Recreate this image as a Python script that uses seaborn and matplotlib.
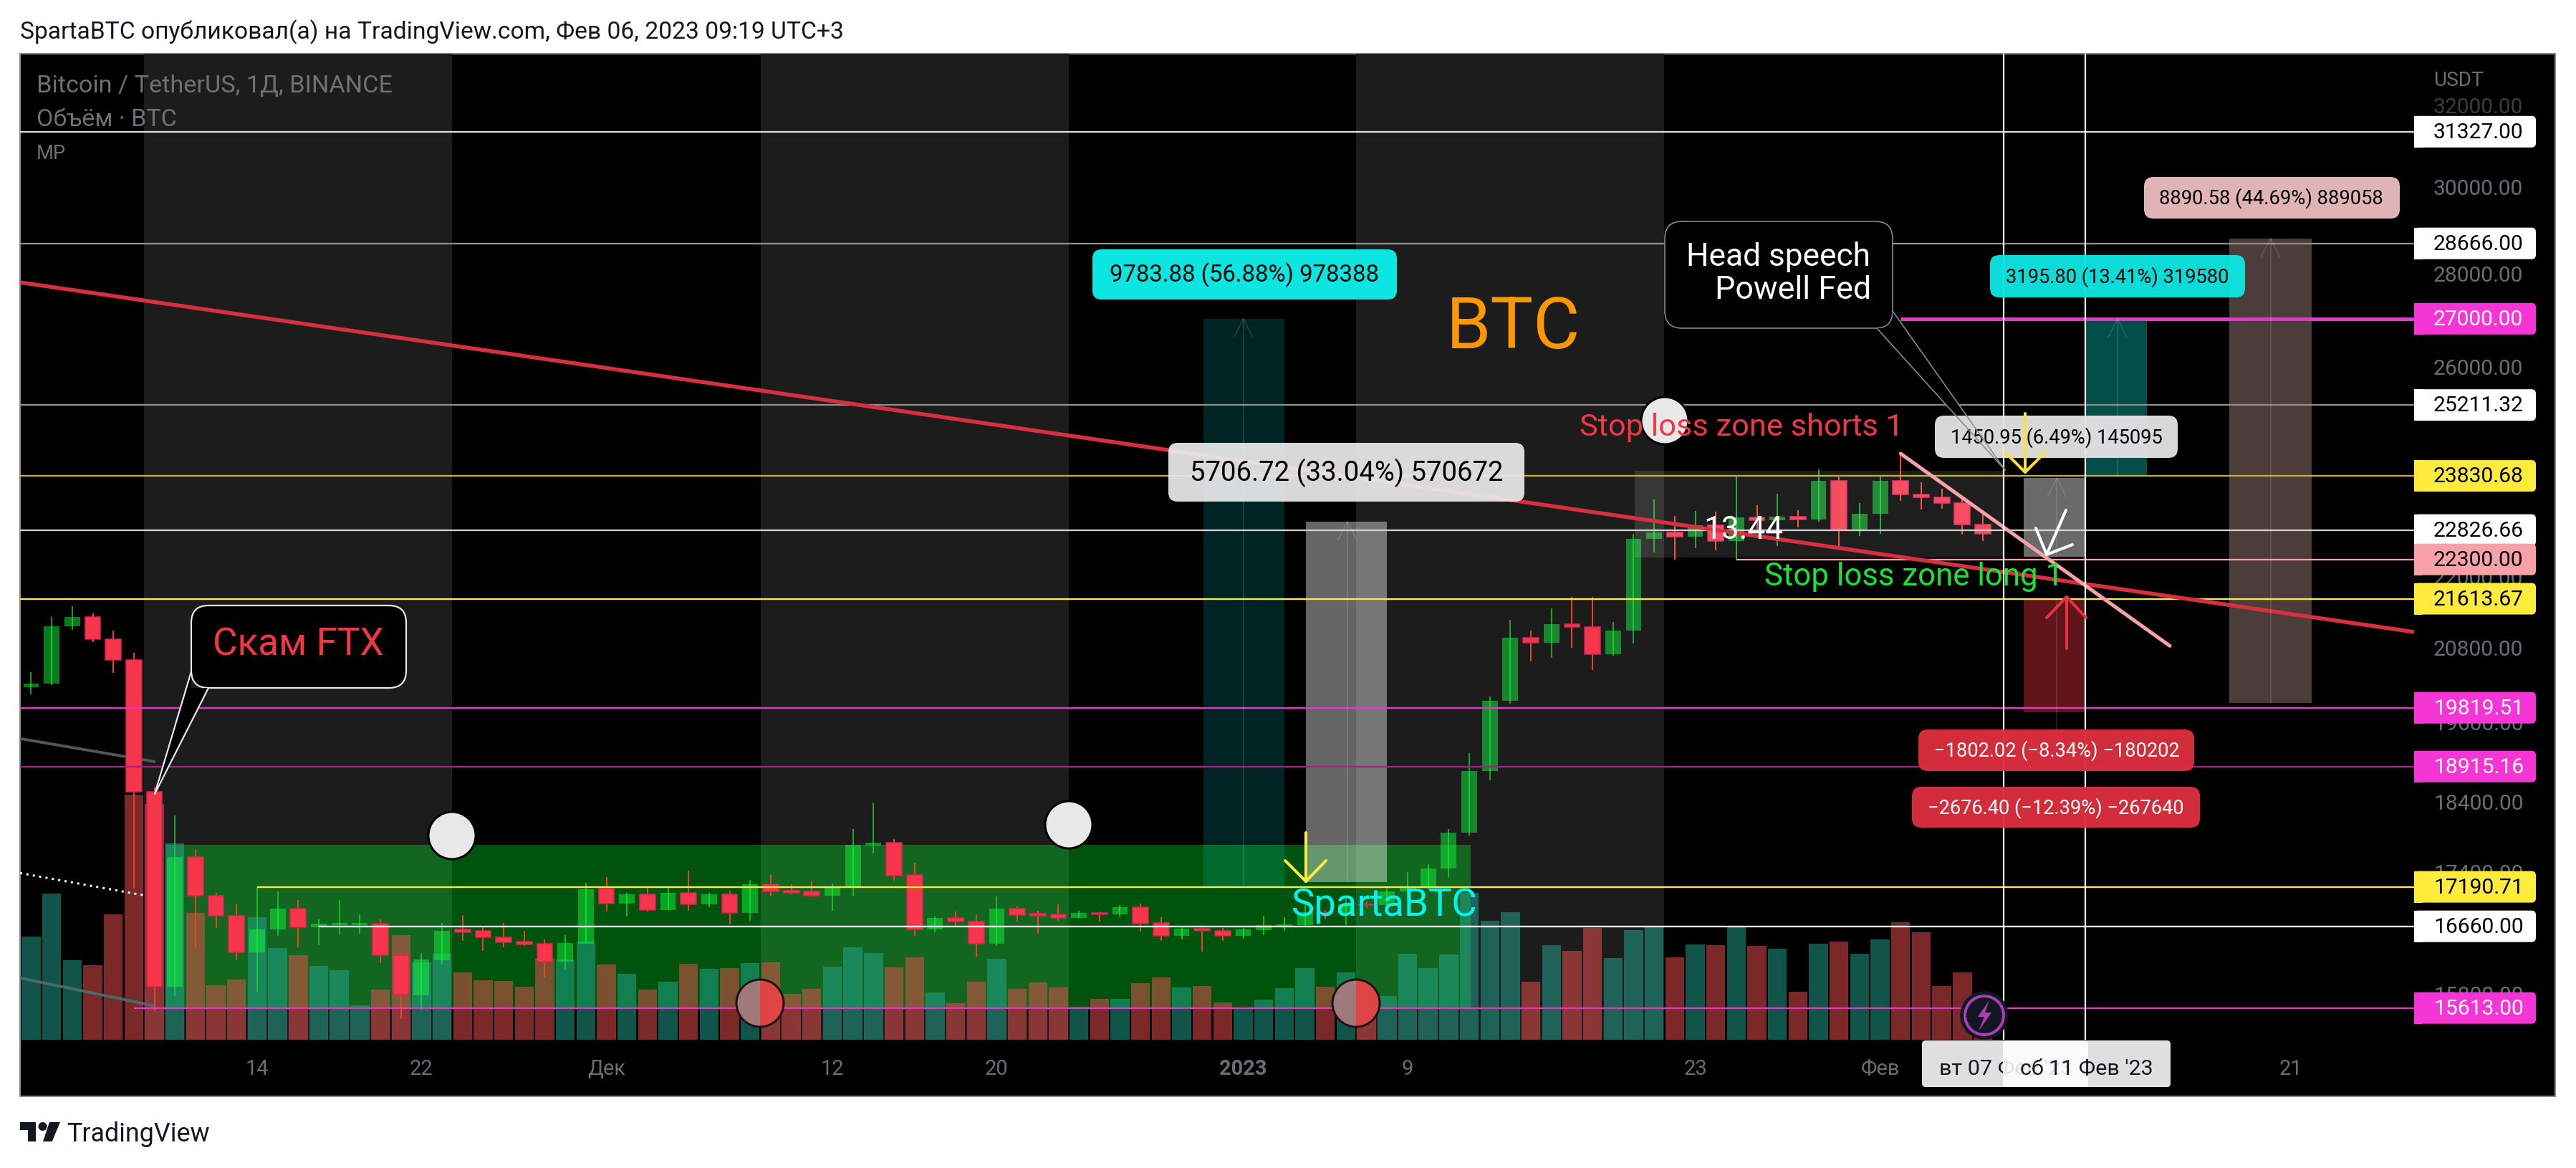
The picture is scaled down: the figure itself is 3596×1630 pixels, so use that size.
import numpy as np
import pandas as pd
import seaborn as sns
import matplotlib
matplotlib.use("Agg")
import matplotlib.pyplot as plt
from matplotlib.patches import FancyBboxPatch, Rectangle, Polygon, Circle, Wedge

# ---------- data (BTCUSDT daily, 3 Nov 2022 -> 6 Feb 2023) ----------
opens = [20150,20205,21148,21300,20925,20590,18541,15880,17605,17067,16804,16320,16618,16895,16652,16678,16680,16695,16279,15770,
         16215,16615,16600,16517,16457,16433,16200,16432,17168,16963,17087,16877,17108,16955,17087,16835,17227,17135,17125,17073,
         17195,17768,17808,17350,16622,16770,16728,16433,16895,16830,16820,16770,16838,16822,16915,16708,16533,16630,16605,16533,
         16610,16664,16674,16850,16831,16950,16943,17127,17179,17440,17943,18846,19930,20952,20872,21185,21133,20677,21072,22666,
         22783,22706,22917,22631,23060,23009,23074,23022,23743,22827,23125,23732,23488,23431,23327,22932]
highs = [20390,21305,21480,21365,21070,20702,18600,18192,17700,17110,16950,17190,17124,17010,16750,17010,16822,16750,16310,16310,
         16707,16808,16650,16707,16600,16488,16546,17245,17320,17105,17178,17178,17410,17105,17135,17290,17355,17225,17270,17235,
         17999,18383,17855,17525,16795,16855,16822,17060,16925,16868,16952,16868,16855,16945,16968,16783,16656,16677,16643,16635,
         16800,16780,16990,16879,17041,16990,17176,17398,17499,18000,19117,20000,21258,21069,21446,21640,21650,21220,22755,23388,
         23078,23180,23162,23816,23282,23500,23189,23960,23800,23320,23812,24255,23715,23587,23433,23158]
lows = [20030,20180,21088,20880,20380,17170,15587,15758,16362,16635,16220,15818,16530,16380,16412,16550,16560,16180,15480,15590,
        16160,16465,16340,16380,16405,16000,16095,16430,16853,16792,16855,16877,16868,16912,16685,16735,17063,17087,17068,16868,
        17075,17652,17275,16530,16585,16668,16260,16400,16728,16567,16737,16770,16728,16792,16592,16473,16486,16327,16470,16495,
        16545,16600,16656,16753,16679,16908,16908,17084,17153,17315,17910,18714,19888,20565,20620,20790,20420,20659,20861,22422,
        22292,22500,22462,22292,22850,22534,22878,22976,22500,22714,22760,23363,23204,23217,22743,22628]
closes = [20205,21148,21300,20925,20590,18541,15880,17605,17067,16804,16320,16618,16895,16650,16695,16708,16708,16279,15778,16225,
          16600,16585,16517,16450,16420,16197,16440,17160,16963,17087,16877,17108,16955,17087,16835,17227,17125,17105,17073,17200,
          17776,17808,17347,16622,16770,16723,16433,16895,16808,16800,16770,16838,16822,16915,16695,16533,16630,16605,16533,16618,
          16677,16685,16850,16831,16950,16943,17127,17178,17440,17943,18846,19930,20954,20871,21185,21134,20677,21072,22667,22783,
          22707,22917,22632,23060,23009,23074,23022,23743,22827,23125,23733,23488,23431,23326,22932,22760]
volumes = [322,457,248,233,392,766,737,614,396,170,188,383,286,264,230,217,107,157,327,241,269,210,186,183,166,253,251,307,235,206,
           157,181,237,222,224,239,242,143,159,228,289,271,226,257,148,114,181,253,159,179,163,103,127,127,177,195,163,168,116,98,
           125,161,224,166,210,107,136,269,224,266,459,372,399,181,296,278,349,255,343,351,258,298,296,351,293,284,150,300,307,269,
           314,367,336,168,211,6]

time_ticks = [11, 19, 28, 39, 47, 59, 67, 81, 90, 110]
time_labels = ["14", "22", "Дек", "12", "20", "2023", "9", "23", "Фев", "21"]
price_ticks = [32000, 30000, 28000, 26000, 24000, 22000, 20800, 19600, 18400, 17400, 16600, 15800]
price_tick_labels = ["32000.00", "30000.00", "28000.00", "26000.00", "24000.00", "22000.00", "20800.00",
                     "19600.00", "18400.00", "17400.00", "16600.00", "15800.00"]

level_prices = [31327, 28666, 27000, 25211.32, 23830.68, 22826.66, 22300, 21613.67, 19819.51, 18915.16, 17190.71, 16660, 15613]
level_labels = ["31327.00", "28666.00", "27000.00", "25211.32", "23830.68", "22826.66", "22300.00", "21613.67",
                "19819.51", "18915.16", "17190.71", "16660.00", "15613.00"]
level_starts = [-1, -1, 91, -1, -1, -1, 83, -1, -1, -1, 11, 14, 5]
level_colors = ["#dcdcdc", "#8f8f8f", "#f22fd0", "#8f8f8f", "#c6b025", "#d0d0d0", "#f9a1a6", "#ffeb3b",
                "#f02fd0", "#a81e86", "#ffeb3b", "#ffffff", "#f02fd0"]
tag_colors = ["#ffffff", "#ffffff", "#f535d6", "#ffffff", "#ffeb3b", "#ffffff", "#f9a1a6", "#ffeb3b",
              "#f535d6", "#f535d6", "#ffeb3b", "#ffffff", "#f535d6"]
tag_text = ["black", "black", "white", "black", "black", "black", "black", "black", "white", "white", "black", "black", "white"]

W, H = 3596, 1631
X0, X1, Y0, Y1 = 28, 3370, 76, 1452
px = 0.72  # points per reference pixel at dpi 100

sns.set_theme(style="dark")
plt.rcParams["font.family"] = ["Roboto", "DejaVu Sans"]
plt.rcParams["axes.grid"] = False

fig = plt.figure(figsize=(W / 100, H / 100), dpi=100, facecolor="white")

# frame behind everything
bg = fig.add_axes([28 / W, 1 - 1531 / H, (3567 - 28) / W, (1531 - 76) / H], zorder=-1, facecolor="black")
bg.set_xticks([]); bg.set_yticks([])
for s in bg.spines.values():
    s.set_color("#8a8a92"); s.set_linewidth(1.5)

ax = fig.add_axes([X0 / W, 1 - Y1 / H, (X1 - X0) / W, (Y1 - Y0) / H])
vol = ax.twinx()
ax.set_zorder(2); vol.set_zorder(1)
ax.patch.set_visible(False)
vol.set_facecolor("black")

idx = np.arange(len(opens))
xlim = (-0.54, 115.99)

# price axes first: the zone below lives in price coordinates
ax.set_yscale("log")
ax.set_ylim(15224, 33329)
ax.set_xlim(*xlim)

# session bands
for a, b in [(5.5, 20.5), (35.5, 50.5), (64.5, 79.5)]:
    vol.axvspan(a, b, color="#1c1c1c", lw=0, zorder=0)

# green accumulation zone (under the volume bars)
vol.add_patch(Rectangle((6.55, 15613), 70.07 - 6.55, 17775 - 15613, fc="#00ff2a", alpha=0.33, lw=0, zorder=0.5,
                        transform=ax.transData))

# volume
frame = pd.DataFrame({"i": idx, "v": volumes,
                      "dir": ["up" if c >= o else "down" for o, c in zip(opens, closes)]})
sns.barplot(data=frame, x="i", y="v", hue="dir", palette={"up": "#22ab94", "down": "#f55050"},
            native_scale=True, dodge=False, width=0.92, alpha=0.5, saturation=1, legend=False,
            ax=vol, zorder=1, linewidth=0)
vol.set_ylim(0, 3082)
vol.set_xlim(*xlim)
vol.set_xlabel(""); vol.set_ylabel("")
vol.set_yticks([])
vol.tick_params(left=False, right=False, labelleft=False, labelright=False)
for s in vol.spines.values():
    s.set_visible(False)

for s in ax.spines.values():
    s.set_visible(False)
ax.yaxis.tick_right()
ax.set_yticks(price_ticks, price_tick_labels)
ax.set_yticks([], minor=True)
ax.yaxis.set_minor_formatter(matplotlib.ticker.NullFormatter())
ax.tick_params(axis="y", length=0, pad=27 * px, labelsize=30 * px, labelcolor="#6c6c74")
ax.set_xticks(time_ticks, time_labels)
ax.tick_params(axis="x", length=0, pad=26 * px, labelsize=29 * px, labelcolor="#6c6c74")
for t, lab in zip(ax.get_xticklabels(), time_labels):
    if lab == "2023":
        t.set_fontweight("bold")
ax.get_yticklabels()[0].set_color("#3c3c40")

# candles
up = np.array(closes) >= np.array(opens)
o, h, l, c = map(np.array, (opens, highs, lows, closes))
ax.vlines(idx[up], l[up], h[up], color="#14e030", alpha=0.7, lw=2 * px, zorder=3)
ax.vlines(idx[~up], l[~up], h[~up], color="#f0401c", lw=2 * px, zorder=3)
ax.bar(idx[up], (c - o)[up], bottom=o[up], width=0.76, color="#14f53c", alpha=0.5, lw=0, zorder=4)
ax.bar(idx[~up], (o - c)[~up], bottom=c[~up], width=0.76, color="#f5364b", edgecolor="#e0205a", lw=1.5 * px, zorder=4)

# consolidation box and position tools
def box(i0, i1, top, bottom, color, alpha):
    ax.add_patch(Rectangle((i0, bottom), i1 - i0, top - bottom, fc=color, alpha=alpha, lw=0, zorder=5))

box(78.05, 96, 23928, 22335, "#ffffff", 0.12)
box(57.06, 61, 27000, 17190, "#00e6e6", 0.16)
box(62.05, 66, 22982, 17256, "#ffffff", 0.40)
box(97, 100, 23792, 22349, "#ffffff", 0.42)
box(100, 103, 27000, 23830.68, "#08a89c", 0.47)
box(107, 111, 28780, 19900, "#e8bcbc", 0.33)
box(97, 100, 21613.67, 19750, "#f23645", 0.40)

# level lines
for p, s, col in zip(level_prices, level_starts, level_colors):
    lw = 5 if p == 27000 else 2.3
    ax.plot([s if s >= 0 else xlim[0], xlim[1]], [p, p], color=col, lw=lw * px, zorder=6, solid_capstyle="butt")

# trend lines
ax.plot([xlim[0], xlim[1]], [27792, 21050], color="#d63040", lw=5.5 * px, zorder=7, solid_capstyle="butt")
ax.plot([91, 104.1], [24255, 20819], color="#f9a1a6", lw=5 * px, zorder=8)
# faint lines at the left edge
ax.plot([xlim[0], 6], [19340, 18990], color="#555558", lw=4 * px, zorder=2)
ax.plot([xlim[0], 6], [15990, 15640], color="#4a6a68", lw=4 * px, zorder=2)
ax.plot([xlim[0], 5.6], [17380, 17070], color="white", lw=3 * px, ls=(0, (1, 2)), zorder=3)
ax.vlines([96, 100], 15224, 33329, color="#ffffff", lw=2.2 * px, zorder=9)

fig.canvas.draw()
renderer = fig.canvas.get_renderer()

# ---------- annotation layer in figure pixels ----------
ov = fig.add_axes([0, 0, 1, 1], zorder=5)
ov.set_xlim(0, W); ov.set_ylim(H, 0)
ov.axis("off")
ov.patch.set_visible(False)

def to_px(i, p):
    x, y = ax.transData.transform((i, p))
    return x, H - y

def fit(x0, x1, cy, s, color, z=30, ha="left", **kw):
    t = ov.text(x0, cy, s, color=color, va="center", ha="left", fontsize=20, zorder=z, **kw)
    w = t.get_window_extent(renderer).width
    t.set_fontsize(20 * (x1 - x0) / w)
    return t

def pill(x0, x1, y0, y1, fc, s, tx0, tx1, tc="black", alpha=1.0, z=20):
    ov.add_patch(FancyBboxPatch((x0, y0), x1 - x0, y1 - y0, boxstyle="round,pad=0,rounding_size=13",
                                fc=fc, ec="none", alpha=alpha, zorder=z))
    fit(tx0, tx1, (y0 + y1) / 2, s, tc, z=z + 1)

def seg(pts, color, lw, z=25, alpha=1.0):
    xs, ys = zip(*pts)
    ov.plot(xs, ys, color=color, lw=lw * px, zorder=z, alpha=alpha, solid_capstyle="round")

def ruler(i, p_top, p_bot, col="#ffffff", alpha=0.15, head="top"):
    x, yt = to_px(i, p_top); _, yb = to_px(i, p_bot)
    seg([(x, yt), (x, yb)], col, 1.5, z=9, alpha=alpha)
    if head == "top":
        seg([(x - 13, yt + 26), (x, yt), (x + 13, yt + 26)], col, 1.5, z=9, alpha=alpha)
    else:
        seg([(x - 13, yb - 26), (x, yb), (x + 13, yb - 26)], col, 1.5, z=9, alpha=alpha)

ruler(59, 27000, 17190)
ruler(64.07, 22982, 17256)
ruler(101.55, 27000, 23830.68)
ruler(109, 28780, 19900)
ruler(98.6, 23792, 22349)
ruler(98.6, 21613.67, 18915.16, head="bottom")

# circles
for cx, cy in [(631, 1167), (1492, 1152), (2324, 588)]:
    ov.add_patch(Circle((cx, cy), 33, fc="#e8e8e8", ec="black", lw=3 * px, zorder=12))
for cx, cy in [(1061, 1401), (1893, 1401)]:
    ov.add_patch(Wedge((cx, cy), 33, 90, 270, fc="#a07a7a", ec="none", zorder=12))
    ov.add_patch(Wedge((cx, cy), 33, 270, 90, fc="#e04545", ec="none", zorder=12))
    ov.add_patch(Circle((cx, cy), 33, fc="none", ec="#1f1214", lw=3 * px, zorder=12))

# lightning badge
ov.add_patch(Circle((2770, 1418), 33, fc="#131722", ec="#131722", lw=1, zorder=13))
ov.add_patch(Circle((2770, 1418), 27, fc="#131722", ec="#a83fb5", lw=4 * px, zorder=13))
ov.add_patch(Polygon([(2777, 1397), (2761, 1420), (2770, 1420), (2762, 1440), (2780, 1414), (2771, 1414)],
                     fc="#a83fb5", ec="none", zorder=14))

# callouts
def callout(x0, x1, y0, y1, a, b, tip, ec, lw):
    ov.add_patch(FancyBboxPatch((x0, y0), x1 - x0, y1 - y0, boxstyle="round,pad=0,rounding_size=24",
                                fc="black", ec=ec, lw=lw * px, zorder=14))
    ov.add_patch(Polygon([a, tip, b, (a[0], b[1])], fc="black", ec="none", zorder=15))
    seg([a, tip], ec, lw, z=27)
    seg([b, tip], ec, lw, z=27)

callout(267, 567, 846, 961, (267, 938), (291, 961), (216, 1109), "#e8e8e8", 2.2)
callout(2324, 2642, 310, 459, (2642, 435), (2620, 459), (2799, 657), "#8c8c8c", 1.6)
fit(297, 536, 900, "Скам FTX", "#f23645", z=28)
fit(2354, 2610, 359, "Head speech", "white", z=28)
fit(2394, 2612, 405, "Powell Fed", "white", z=28)

# free text
fit(2019, 2207, 459, "BTC", "#ff9800", z=28)
fit(2205, 2656, 597, "Stop loss zone shorts 1", "#f23645", z=28)
fit(2463, 2879, 805, "Stop loss zone long 1", "#14e632", z=28)
fit(1803, 2063, 1264, "SpartaBTC", "#00f5f0", z=28)
fit(2378, 2489, 740, "13.44", "white", z=28)

# pills of the position tools
pill(1525, 1950, 349, 419, "#0de5e0", "9783.88 (56.88%) 978388", 1549, 1924)
pill(1631, 2128, 619, 701, "#eaeaea", "5706.72 (33.04%) 570672", 1661, 2098, alpha=0.93)
pill(2701, 3040, 581, 640, "#e5e5e5", "1450.95 (6.49%) 145095", 2723, 3019, alpha=0.95)
pill(2778, 3134, 357, 416, "#0de5e0", "3195.80 (13.41%) 319580", 2800, 3112, alpha=0.97)
pill(2993, 3350, 248, 306, "#e0b4b4", "8890.58 (44.69%) 889058", 3014, 3327)
pill(2678, 3063, 1019, 1077, "#db2e3e", "\u22121802.02 (\u22128.34%) \u2212180202", 2700, 3042, tc="white", alpha=0.97)
pill(2669, 3071, 1099, 1156, "#db2e3e", "\u22122676.40 (\u221212.39%) \u2212267640", 2691, 3049, tc="white", alpha=0.97)

# hand-drawn arrows
seg([(1823, 1163), (1823, 1231)], "#ffeb3b", 4, z=26)
seg([(1794, 1202), (1823, 1231), (1851, 1202)], "#ffeb3b", 4, z=26)
seg([(2827, 578), (2827, 660)], "#ffe135", 4, z=26)
seg([(2799, 632), (2827, 660), (2855, 632)], "#ffe135", 4, z=26)
seg([(2885, 906), (2885, 834)], "#e8323f", 4, z=26)
seg([(2857, 863), (2885, 834), (2912, 863)], "#e8323f", 4, z=26)
seg([(2884, 713), (2857, 775)], "white", 4, z=26)
seg([(2842, 738), (2857, 775), (2893, 761)], "white", 4, z=26)

# price tags on the axis
for p, s, fc, tc in zip(level_prices, level_labels, tag_colors, tag_text):
    _, y = to_px(0, p)
    ov.add_patch(FancyBboxPatch((3370, y - 22), 170, 44, boxstyle="round,pad=0,rounding_size=6", fc=fc, ec="none", zorder=20))
    ov.add_patch(Rectangle((3370, y - 22), 12, 44, fc=fc, ec="none", zorder=20))
    ov.text(3397, y, s, color=tc, fontsize=30 * px, va="center", ha="left", zorder=21)

# crosshair date pills
ov.add_patch(FancyBboxPatch((2683, 1453), 232, 65, boxstyle="round,pad=0,rounding_size=5", fc="white", ec="none", alpha=0.88, zorder=20))
fit(2707, 2892, 1492, "вт 07 Фев '23", "#131722", z=21)
ov.add_patch(FancyBboxPatch((2796, 1453), 234, 65, boxstyle="round,pad=0,rounding_size=5", fc="white", ec="none", alpha=0.88, zorder=22))
fit(2820, 3005, 1492, "сб 11 Фев '23", "#131722", z=23)

# header, legend
fit(28, 1176, 45, "SpartaBTC опубликовал(а) на TradingView.com, Фев 06, 2023 09:19 UTC+3", "#131722")
fit(51, 547, 120, "Bitcoin / TetherUS, 1Д, BINANCE", "#6f6f74")
fit(51, 247, 167, "Объём · BTC", "#6f6f74")
fit(51, 92, 215, "MP", "#6f6f74")
ov.text(3397, 112, "USDT", color="#6c6c74", fontsize=28 * px, va="center", ha="left", zorder=21)

# TradingView wordmark
ov.add_patch(Polygon([(28, 1567), (50, 1567), (50, 1594), (39, 1594), (39, 1578), (28, 1578)], fc="#131722", ec="none"))
ov.add_patch(Circle((59.5, 1573), 6, fc="#131722", ec="none"))
ov.add_patch(Polygon([(69, 1567), (84, 1567), (72.7, 1594), (60, 1594)], fc="#131722", ec="none"))
fit(93, 292, 1583, "TradingView", "#131722")
ov.set_xlim(0, W); ov.set_ylim(H, 0)

fig.savefig("out.png", dpi=100, facecolor="white")
